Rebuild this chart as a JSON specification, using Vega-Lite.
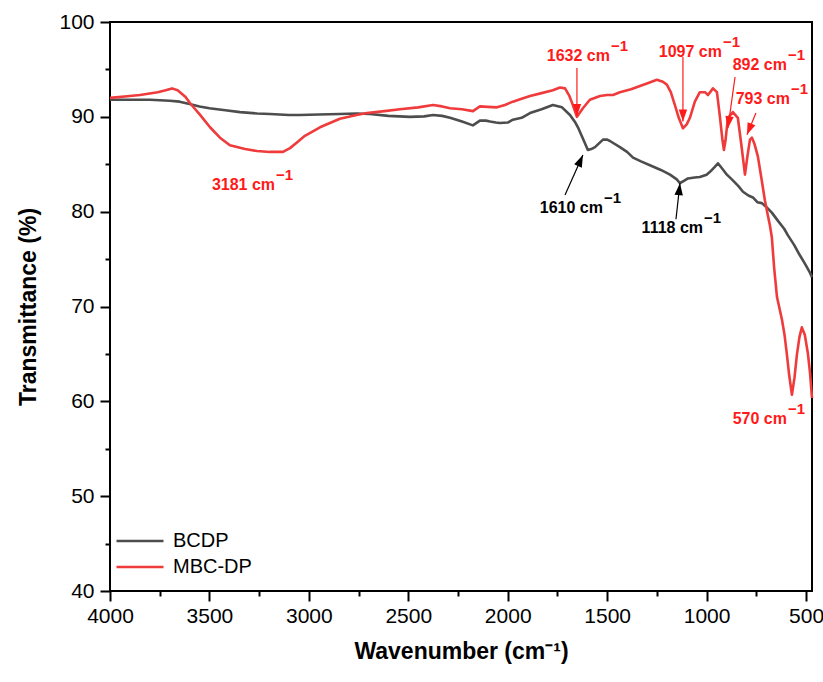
{
  "$schema": "https://vega.github.io/schema/vega-lite/v6.json",
  "width": 702,
  "height": 569,
  "autosize": {"type": "none"},
  "padding": {"left": 110, "top": 22, "right": 11, "bottom": 91},
  "background": "white",
  "config": {
    "view": {"stroke": "black", "strokeWidth": 2},
    "font": "Liberation Sans",
    "axis": {
      "domain": false, "grid": false, "ticks": true,
      "tickColor": "black", "tickWidth": 2, "tickSize": 10,
      "labelFont": "Liberation Sans", "labelFontSize": 21, "labelColor": "black",
      "titleFont": "Liberation Sans", "titleFontSize": 23, "titleFontWeight": "bold", "titleColor": "black",
      "labelFlush": false, "labelOverlap": false, "format": "d"
    }
  },
  "datasets": {
    "spectra": [
      {"wn":4000,"t":91.8,"sample":"BCDP"},{"wn":3900,"t":91.8,"sample":"BCDP"},{"wn":3800,"t":91.8,"sample":"BCDP"},{"wn":3700,"t":91.7,"sample":"BCDP"},{"wn":3650,"t":91.6,"sample":"BCDP"},{"wn":3600,"t":91.35,"sample":"BCDP"},{"wn":3550,"t":91.1,"sample":"BCDP"},{"wn":3500,"t":90.9,"sample":"BCDP"},{"wn":3420,"t":90.7,"sample":"BCDP"},{"wn":3346,"t":90.5,"sample":"BCDP"},{"wn":3260,"t":90.35,"sample":"BCDP"},{"wn":3196,"t":90.3,"sample":"BCDP"},{"wn":3100,"t":90.2,"sample":"BCDP"},{"wn":3045,"t":90.2,"sample":"BCDP"},{"wn":2950,"t":90.25,"sample":"BCDP"},{"wn":2844,"t":90.3,"sample":"BCDP"},{"wn":2760,"t":90.35,"sample":"BCDP"},{"wn":2693,"t":90.3,"sample":"BCDP"},{"wn":2600,"t":90.1,"sample":"BCDP"},{"wn":2492,"t":90.0,"sample":"BCDP"},{"wn":2420,"t":90.05,"sample":"BCDP"},{"wn":2376,"t":90.2,"sample":"BCDP"},{"wn":2330,"t":90.1,"sample":"BCDP"},{"wn":2290,"t":89.9,"sample":"BCDP"},{"wn":2230,"t":89.5,"sample":"BCDP"},{"wn":2175,"t":89.1,"sample":"BCDP"},{"wn":2140,"t":89.6,"sample":"BCDP"},{"wn":2110,"t":89.6,"sample":"BCDP"},{"wn":2089,"t":89.5,"sample":"BCDP"},{"wn":2060,"t":89.4,"sample":"BCDP"},{"wn":2039,"t":89.35,"sample":"BCDP"},{"wn":2000,"t":89.4,"sample":"BCDP"},{"wn":1974,"t":89.7,"sample":"BCDP"},{"wn":1930,"t":89.9,"sample":"BCDP"},{"wn":1888,"t":90.4,"sample":"BCDP"},{"wn":1830,"t":90.8,"sample":"BCDP"},{"wn":1773,"t":91.25,"sample":"BCDP"},{"wn":1727,"t":91.0,"sample":"BCDP"},{"wn":1687,"t":90.2,"sample":"BCDP"},{"wn":1660,"t":89.4,"sample":"BCDP"},{"wn":1647,"t":88.9,"sample":"BCDP"},{"wn":1620,"t":87.6,"sample":"BCDP"},{"wn":1597,"t":86.5,"sample":"BCDP"},{"wn":1580,"t":86.6,"sample":"BCDP"},{"wn":1561,"t":86.8,"sample":"BCDP"},{"wn":1521,"t":87.6,"sample":"BCDP"},{"wn":1500,"t":87.6,"sample":"BCDP"},{"wn":1486,"t":87.45,"sample":"BCDP"},{"wn":1436,"t":86.8,"sample":"BCDP"},{"wn":1400,"t":86.3,"sample":"BCDP"},{"wn":1370,"t":85.7,"sample":"BCDP"},{"wn":1330,"t":85.3,"sample":"BCDP"},{"wn":1285,"t":84.9,"sample":"BCDP"},{"wn":1230,"t":84.4,"sample":"BCDP"},{"wn":1184,"t":83.9,"sample":"BCDP"},{"wn":1150,"t":83.4,"sample":"BCDP"},{"wn":1134,"t":83.0,"sample":"BCDP"},{"wn":1110,"t":83.3,"sample":"BCDP"},{"wn":1094,"t":83.5,"sample":"BCDP"},{"wn":1060,"t":83.6,"sample":"BCDP"},{"wn":1034,"t":83.65,"sample":"BCDP"},{"wn":1000,"t":83.9,"sample":"BCDP"},{"wn":983,"t":84.2,"sample":"BCDP"},{"wn":960,"t":84.7,"sample":"BCDP"},{"wn":943,"t":85.1,"sample":"BCDP"},{"wn":920,"t":84.5,"sample":"BCDP"},{"wn":898,"t":83.9,"sample":"BCDP"},{"wn":868,"t":83.3,"sample":"BCDP"},{"wn":840,"t":82.7,"sample":"BCDP"},{"wn":817,"t":82.1,"sample":"BCDP"},{"wn":790,"t":81.7,"sample":"BCDP"},{"wn":767,"t":81.5,"sample":"BCDP"},{"wn":745,"t":81.0,"sample":"BCDP"},{"wn":722,"t":80.9,"sample":"BCDP"},{"wn":700,"t":80.5,"sample":"BCDP"},{"wn":672,"t":79.9,"sample":"BCDP"},{"wn":640,"t":79.0,"sample":"BCDP"},{"wn":610,"t":78.2,"sample":"BCDP"},{"wn":591,"t":77.5,"sample":"BCDP"},{"wn":560,"t":76.5,"sample":"BCDP"},{"wn":531,"t":75.4,"sample":"BCDP"},{"wn":505,"t":74.5,"sample":"BCDP"},{"wn":481,"t":73.6,"sample":"BCDP"},{"wn":470,"t":73.1,"sample":"BCDP"},
      {"wn":4000,"t":92.0,"sample":"MBC-DP"},{"wn":3900,"t":92.2,"sample":"MBC-DP"},{"wn":3849,"t":92.3,"sample":"MBC-DP"},{"wn":3760,"t":92.6,"sample":"MBC-DP"},{"wn":3720,"t":92.8,"sample":"MBC-DP"},{"wn":3688,"t":93.0,"sample":"MBC-DP"},{"wn":3660,"t":92.8,"sample":"MBC-DP"},{"wn":3648,"t":92.6,"sample":"MBC-DP"},{"wn":3620,"t":92.1,"sample":"MBC-DP"},{"wn":3598,"t":91.46,"sample":"MBC-DP"},{"wn":3547,"t":90.2,"sample":"MBC-DP"},{"wn":3497,"t":88.9,"sample":"MBC-DP"},{"wn":3447,"t":87.8,"sample":"MBC-DP"},{"wn":3397,"t":87.0,"sample":"MBC-DP"},{"wn":3321,"t":86.6,"sample":"MBC-DP"},{"wn":3261,"t":86.4,"sample":"MBC-DP"},{"wn":3196,"t":86.3,"sample":"MBC-DP"},{"wn":3130,"t":86.3,"sample":"MBC-DP"},{"wn":3095,"t":86.7,"sample":"MBC-DP"},{"wn":3060,"t":87.3,"sample":"MBC-DP"},{"wn":3020,"t":88.0,"sample":"MBC-DP"},{"wn":2944,"t":88.9,"sample":"MBC-DP"},{"wn":2844,"t":89.8,"sample":"MBC-DP"},{"wn":2760,"t":90.2,"sample":"MBC-DP"},{"wn":2708,"t":90.4,"sample":"MBC-DP"},{"wn":2620,"t":90.6,"sample":"MBC-DP"},{"wn":2542,"t":90.8,"sample":"MBC-DP"},{"wn":2450,"t":91.0,"sample":"MBC-DP"},{"wn":2376,"t":91.25,"sample":"MBC-DP"},{"wn":2330,"t":91.1,"sample":"MBC-DP"},{"wn":2290,"t":90.9,"sample":"MBC-DP"},{"wn":2230,"t":90.8,"sample":"MBC-DP"},{"wn":2175,"t":90.6,"sample":"MBC-DP"},{"wn":2140,"t":91.1,"sample":"MBC-DP"},{"wn":2100,"t":91.05,"sample":"MBC-DP"},{"wn":2054,"t":91.0,"sample":"MBC-DP"},{"wn":2014,"t":91.25,"sample":"MBC-DP"},{"wn":1974,"t":91.6,"sample":"MBC-DP"},{"wn":1930,"t":91.9,"sample":"MBC-DP"},{"wn":1888,"t":92.2,"sample":"MBC-DP"},{"wn":1830,"t":92.5,"sample":"MBC-DP"},{"wn":1773,"t":92.8,"sample":"MBC-DP"},{"wn":1737,"t":93.1,"sample":"MBC-DP"},{"wn":1712,"t":93.0,"sample":"MBC-DP"},{"wn":1690,"t":92.2,"sample":"MBC-DP"},{"wn":1677,"t":91.5,"sample":"MBC-DP"},{"wn":1665,"t":90.8,"sample":"MBC-DP"},{"wn":1652,"t":90.0,"sample":"MBC-DP"},{"wn":1622,"t":90.9,"sample":"MBC-DP"},{"wn":1587,"t":91.8,"sample":"MBC-DP"},{"wn":1536,"t":92.2,"sample":"MBC-DP"},{"wn":1500,"t":92.3,"sample":"MBC-DP"},{"wn":1471,"t":92.3,"sample":"MBC-DP"},{"wn":1436,"t":92.6,"sample":"MBC-DP"},{"wn":1380,"t":92.9,"sample":"MBC-DP"},{"wn":1335,"t":93.25,"sample":"MBC-DP"},{"wn":1290,"t":93.6,"sample":"MBC-DP"},{"wn":1250,"t":93.9,"sample":"MBC-DP"},{"wn":1220,"t":93.7,"sample":"MBC-DP"},{"wn":1200,"t":93.4,"sample":"MBC-DP"},{"wn":1180,"t":92.6,"sample":"MBC-DP"},{"wn":1159,"t":91.2,"sample":"MBC-DP"},{"wn":1140,"t":89.9,"sample":"MBC-DP"},{"wn":1119,"t":88.8,"sample":"MBC-DP"},{"wn":1100,"t":89.2,"sample":"MBC-DP"},{"wn":1084,"t":89.9,"sample":"MBC-DP"},{"wn":1059,"t":91.6,"sample":"MBC-DP"},{"wn":1034,"t":92.6,"sample":"MBC-DP"},{"wn":1008,"t":92.6,"sample":"MBC-DP"},{"wn":993,"t":92.3,"sample":"MBC-DP"},{"wn":968,"t":93.0,"sample":"MBC-DP"},{"wn":948,"t":92.6,"sample":"MBC-DP"},{"wn":933,"t":90.0,"sample":"MBC-DP"},{"wn":920,"t":87.5,"sample":"MBC-DP"},{"wn":913,"t":86.5,"sample":"MBC-DP"},{"wn":905,"t":87.5,"sample":"MBC-DP"},{"wn":893,"t":89.9,"sample":"MBC-DP"},{"wn":868,"t":90.5,"sample":"MBC-DP"},{"wn":843,"t":89.9,"sample":"MBC-DP"},{"wn":825,"t":87.0,"sample":"MBC-DP"},{"wn":807,"t":83.9,"sample":"MBC-DP"},{"wn":795,"t":85.8,"sample":"MBC-DP"},{"wn":782,"t":87.6,"sample":"MBC-DP"},{"wn":772,"t":87.8,"sample":"MBC-DP"},{"wn":760,"t":87.2,"sample":"MBC-DP"},{"wn":742,"t":85.8,"sample":"MBC-DP"},{"wn":725,"t":83.6,"sample":"MBC-DP"},{"wn":707,"t":81.2,"sample":"MBC-DP"},{"wn":692,"t":79.6,"sample":"MBC-DP"},{"wn":682,"t":78.6,"sample":"MBC-DP"},{"wn":672,"t":77.3,"sample":"MBC-DP"},{"wn":660,"t":74.0,"sample":"MBC-DP"},{"wn":646,"t":71.0,"sample":"MBC-DP"},{"wn":621,"t":68.6,"sample":"MBC-DP"},{"wn":608,"t":67.0,"sample":"MBC-DP"},{"wn":596,"t":64.9,"sample":"MBC-DP"},{"wn":585,"t":62.8,"sample":"MBC-DP"},{"wn":571,"t":60.7,"sample":"MBC-DP"},{"wn":558,"t":62.5,"sample":"MBC-DP"},{"wn":546,"t":64.9,"sample":"MBC-DP"},{"wn":533,"t":66.8,"sample":"MBC-DP"},{"wn":521,"t":67.8,"sample":"MBC-DP"},{"wn":506,"t":67.0,"sample":"MBC-DP"},{"wn":491,"t":65.1,"sample":"MBC-DP"},{"wn":480,"t":63.0,"sample":"MBC-DP"},{"wn":470,"t":60.35,"sample":"MBC-DP"}
    ],
    "labels": [
      {"wn":1486,"t":95.9,"label":"1632 cm","sample":"MBC-DP"},
      {"wn":923,"t":96.28,"label":"1097 cm","sample":"MBC-DP"},
      {"wn":596,"t":94.94,"label":"892 cm","sample":"MBC-DP"},
      {"wn":581,"t":91.35,"label":"793 cm","sample":"MBC-DP"},
      {"wn":3170,"t":82.28,"label":"3181 cm","sample":"MBC-DP"},
      {"wn":596,"t":57.61,"label":"570 cm","sample":"MBC-DP"},
      {"wn":1521,"t":79.89,"label":"1610 cm","sample":"BCDP"},
      {"wn":1018,"t":77.72,"label":"1118 cm","sample":"BCDP"}
    ],
    "arrows": [
      {"wn":1652,"t":95.15,"wn2":1652,"t2":90.1,"angle":180,"sample":"MBC-DP"},
      {"wn":1119,"t":96.3,"wn2":1119,"t2":89.5,"angle":180,"sample":"MBC-DP"},
      {"wn":857,"t":94.2,"wn2":893,"t2":88.8,"angle":188,"sample":"MBC-DP"},
      {"wn":752,"t":90.4,"wn2":797,"t2":88.1,"angle":202,"sample":"MBC-DP"},
      {"wn":1712,"t":81.76,"wn2":1622,"t2":85.97,"angle":24,"sample":"BCDP"},
      {"wn":1154,"t":79.2,"wn2":1134,"t2":83.0,"angle":6,"sample":"BCDP"}
    ]
  },
  "resolve": {"axis": {"x": "independent", "y": "independent"}},
  "layer": [
    {
      "data": {"name": "spectra"},
      "mark": {"type": "line", "strokeWidth": 2.6, "strokeJoin": "round"},
      "encoding": {
        "x": {"field": "wn", "type": "quantitative",
              "scale": {"domain": [470, 4000], "reverse": true, "nice": false, "zero": false},
              "axis": {"orient": "bottom", "values": [4000,3500,3000,2500,2000,1500,1000,500], "labelPadding": 4, "title": "Wavenumber (cm⁻¹)", "titlePadding": 14}},
        "y": {"field": "t", "type": "quantitative",
              "scale": {"domain": [40, 100], "nice": false, "zero": false},
              "axis": {"orient": "left", "values": [40,50,60,70,80,90,100], "labelPadding": 6, "title": "Transmittance (%)", "titlePadding": 18}},
        "color": {"field": "sample", "type": "nominal",
                  "scale": {"domain": ["BCDP", "MBC-DP"], "range": ["#4d4d4d", "#ef3b3b"]},
                  "legend": {"orient": "none", "legendX": 5, "legendY": 509, "title": null, "padding": 0,
                             "symbolType": "stroke", "symbolSize": 2209, "symbolStrokeWidth": 2.6,
                             "labelFontSize": 20, "labelFont": "Liberation Sans", "labelColor": "black",
                             "clipHeight": 20, "rowPadding": 6, "labelOffset": 8}}
      }
    },
    {
      "data": {"name": "arrows"},
      "mark": {"type": "rule", "strokeWidth": 1.2},
      "encoding": {
        "x": {"field": "wn", "type": "quantitative",
              "scale": {"domain": [470, 4000], "reverse": true, "nice": false, "zero": false},
              "axis": {"orient": "bottom", "values": [3750,3250,2750,2250,1750,1250,750], "labels": false, "tickSize": 5, "title": null}},
        "y": {"field": "t", "type": "quantitative",
              "scale": {"domain": [40, 100], "nice": false, "zero": false},
              "axis": {"orient": "left", "values": [45,55,65,75,85,95], "labels": false, "tickSize": 5, "title": null}},
        "x2": {"field": "wn2"},
        "y2": {"field": "t2"},
        "color": {"condition": {"test": "datum.sample === 'BCDP'", "value": "black"}, "value": "#ff1a1a"}
      }
    },
    {
      "data": {"name": "arrows"},
      "mark": {"type": "point", "shape": "M0,0L-0.35,1L0.35,1Z", "filled": true, "size": 576, "opacity": 1},
      "encoding": {
        "x": {"field": "wn2", "type": "quantitative", "scale": {"domain": [470, 4000], "reverse": true, "nice": false, "zero": false}, "axis": null},
        "y": {"field": "t2", "type": "quantitative", "scale": {"domain": [40, 100], "nice": false, "zero": false}, "axis": null},
        "angle": {"field": "angle", "type": "quantitative", "scale": null},
        "color": {"condition": {"test": "datum.sample === 'BCDP'", "value": "black"}, "value": "#ff1a1a"}
      }
    },
    {
      "data": {"name": "labels"},
      "mark": {"type": "text", "align": "right", "baseline": "alphabetic", "fontSize": 16, "fontWeight": "bold", "font": "Liberation Sans"},
      "encoding": {
        "x": {"field": "wn", "type": "quantitative", "scale": {"domain": [470, 4000], "reverse": true, "nice": false, "zero": false}, "axis": null},
        "y": {"field": "t", "type": "quantitative", "scale": {"domain": [40, 100], "nice": false, "zero": false}, "axis": null},
        "text": {"field": "label"},
        "color": {"condition": {"test": "datum.sample === 'BCDP'", "value": "black"}, "value": "#ff1a1a"}
      }
    },
    {
      "data": {"name": "labels"},
      "mark": {"type": "text", "align": "left", "baseline": "alphabetic", "fontSize": 15, "fontWeight": "bold", "font": "Liberation Sans", "dx": 1, "dy": -10, "text": "−1"},
      "encoding": {
        "x": {"field": "wn", "type": "quantitative", "scale": {"domain": [470, 4000], "reverse": true, "nice": false, "zero": false}, "axis": null},
        "y": {"field": "t", "type": "quantitative", "scale": {"domain": [40, 100], "nice": false, "zero": false}, "axis": null},
        "color": {"condition": {"test": "datum.sample === 'BCDP'", "value": "black"}, "value": "#ff1a1a"}
      }
    }
  ]
}
